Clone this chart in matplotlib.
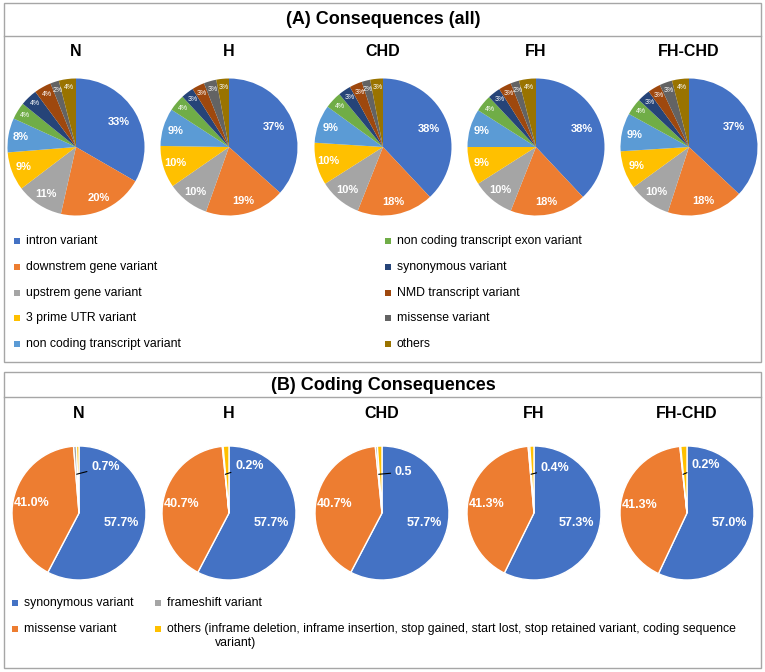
import matplotlib
matplotlib.use("Agg")
import matplotlib.pyplot as plt
from matplotlib.patches import Rectangle
import numpy as np

plt.rcParams['font.family'] = ['Liberation Sans', 'DejaVu Sans']

W, H = 765, 672

groups = ['N', 'H', 'CHD', 'FH', 'FH-CHD']

# (A) all consequences, percent per group
all_labels = ['intron variant', 'downstrem gene variant', 'upstrem gene variant',
              '3 prime UTR variant', 'non coding transcript variant',
              'non coding transcript exon variant', 'synonymous variant',
              'NMD transcript variant', 'missense variant', 'others']
all_colors = ['#4472C4', '#ED7D31', '#A5A5A5', '#FFC000', '#5B9BD5',
              '#70AD47', '#264478', '#9E480E', '#636363', '#997300']
all_N = [33, 20, 11, 9, 8, 4, 4, 4, 2, 4]
all_H = [37, 19, 10, 10, 9, 4, 3, 3, 3, 3]
all_CHD = [38, 18, 10, 10, 9, 4, 3, 3, 2, 3]
all_FH = [38, 18, 10, 9, 9, 4, 3, 3, 2, 4]
all_FHCHD = [37, 18, 10, 9, 9, 4, 3, 3, 3, 4]
all_values = [all_N, all_H, all_CHD, all_FH, all_FHCHD]

# (B) coding consequences, percent per group
coding_labels = ['synonymous variant', 'missense variant', 'frameshift variant',
                 'others (inframe deletion, inframe insertion, stop gained, start lost, '
                 'stop retained variant, coding sequence']
coding_colors = ['#4472C4', '#ED7D31', '#A5A5A5', '#FFC000']
cod_N = [57.7, 41.0, 0.7, 0.6]
cod_H = [57.7, 40.7, 0.2, 1.4]
cod_CHD = [57.7, 40.7, 0.5, 1.1]
cod_FH = [57.3, 41.3, 0.4, 1.0]
cod_FHCHD = [57.0, 41.3, 0.2, 1.5]
coding_values = [cod_N, cod_H, cod_CHD, cod_FH, cod_FHCHD]
callout_text = ['0.7%', '0.2%', '0.5', '0.4%', '0.2%']

# layout (pixels)
top_cx = [76, 229, 383, 536, 689]
top_cy, top_r = 147, 68.5
bot_cx = [79, 229, 382, 534, 687]
bot_cy, bot_r = 513, 67
callout_pos = [(0.18, 0.69), (0.09, 0.70), (0.19, 0.61), (0.10, 0.67), (0.06, 0.72)]
leg_fs = 8.8

fig = plt.figure(figsize=(W / 100, H / 100), dpi=100)
bg = fig.add_axes([0, 0, 1, 1])
bg.set_xlim(0, W)
bg.set_ylim(H, 0)
bg.axis('off')

border = '#A6A6A6'
# panel frames
for y0, y1, ysep in [(3, 362, 36), (372, 668, 397)]:
    bg.add_patch(Rectangle((4, y0), 757, y1 - y0, fill=False, ec=border, lw=1))
    bg.plot([4, 761], [ysep, ysep], color=border, lw=1)

bg.text(383, 19, '(A) Consequences (all)', ha='center', va='center',
        fontsize=13, fontweight='bold')
bg.text(383, 385, '(B) Coding Consequences', ha='center', va='center',
        fontsize=13, fontweight='bold')


def pie_axes(cx, cy, r):
    return fig.add_axes([(cx - r) / W, 1 - (cy + r) / H, 2 * r / W, 2 * r / H])


def fix_limits(ax):
    ax.set_xlim(-1, 1)
    ax.set_ylim(-1, 1)
    ax.axis('off')


# top row
for i, g in enumerate(groups):
    bg.text(top_cx[i], 52, g, ha='center', va='center', fontsize=11.5, fontweight='bold')
    ax = pie_axes(top_cx[i], top_cy, top_r)
    wedges, _ = ax.pie(all_values[i], colors=all_colors, startangle=90,
                       counterclock=False, radius=1, wedgeprops=dict(lw=0))
    fix_limits(ax)
    for j, (w, v) in enumerate(zip(wedges, all_values[i])):
        th = np.deg2rad((w.theta1 + w.theta2) / 2)
        if v >= 5:
            d = 0.72 if j == 0 else 0.82
            ax.text(d * np.cos(th), d * np.sin(th), f'{v}%', ha='center', va='center',
                    color='white', fontsize=8, fontweight='bold')
        else:
            d = 0.87
            ax.text(d * np.cos(th), d * np.sin(th), f'{v}%', ha='center', va='center',
                    color='white', fontsize=5)

# bottom row
for i, g in enumerate(groups):
    bg.text(bot_cx[i], 414, g, ha='center', va='center', fontsize=11.5, fontweight='bold')
    ax = pie_axes(bot_cx[i], bot_cy, bot_r)
    vals = coding_values[i]
    wedges, _ = ax.pie(vals, colors=coding_colors, startangle=90, counterclock=False,
                       radius=1, wedgeprops=dict(lw=1, ec='white'))
    fix_limits(ax)
    for j in range(2):
        w = wedges[j]
        th = np.deg2rad((w.theta1 + w.theta2) / 2)
        d = 0.65 if j == 0 else 0.72
        ax.text(d * np.cos(th), d * np.sin(th), f'{vals[j]:.1f}%', ha='center',
                va='center', color='white', fontsize=9, fontweight='bold')
    w = wedges[2]
    th = np.deg2rad((w.theta1 + w.theta2) / 2)
    ax.annotate(callout_text[i], xy=(0.58 * np.cos(th), 0.58 * np.sin(th)),
                xytext=callout_pos[i], ha='left', va='center', color='white',
                fontsize=9, fontweight='bold',
                arrowprops=dict(arrowstyle='-', color='black', lw=0.8,
                                shrinkA=1, shrinkB=0))

# legend (A)
leg_rows = [241, 267, 293, 318, 344]
for k, (lab, col) in enumerate(zip(all_labels, all_colors)):
    x = 17 if k < 5 else 388
    y = leg_rows[k % 5]
    bg.add_patch(Rectangle((x - 3, y - 3), 6, 6, color=col, lw=0))
    bg.text(x + 9, y, lab, ha='left', va='center', fontsize=leg_fs)

# legend (B)
legB = [(15, 603), (15, 629), (158, 603), (158, 629)]
for k, (lab, col) in enumerate(zip(coding_labels, coding_colors)):
    x, y = legB[k]
    bg.add_patch(Rectangle((x - 3, y - 3), 6, 6, color=col, lw=0))
    bg.text(x + 9, y, lab, ha='left', va='center', fontsize=leg_fs)
bg.text(215, 643, 'variant)', ha='left', va='center', fontsize=leg_fs)

fig.savefig('out.png', dpi=100)
